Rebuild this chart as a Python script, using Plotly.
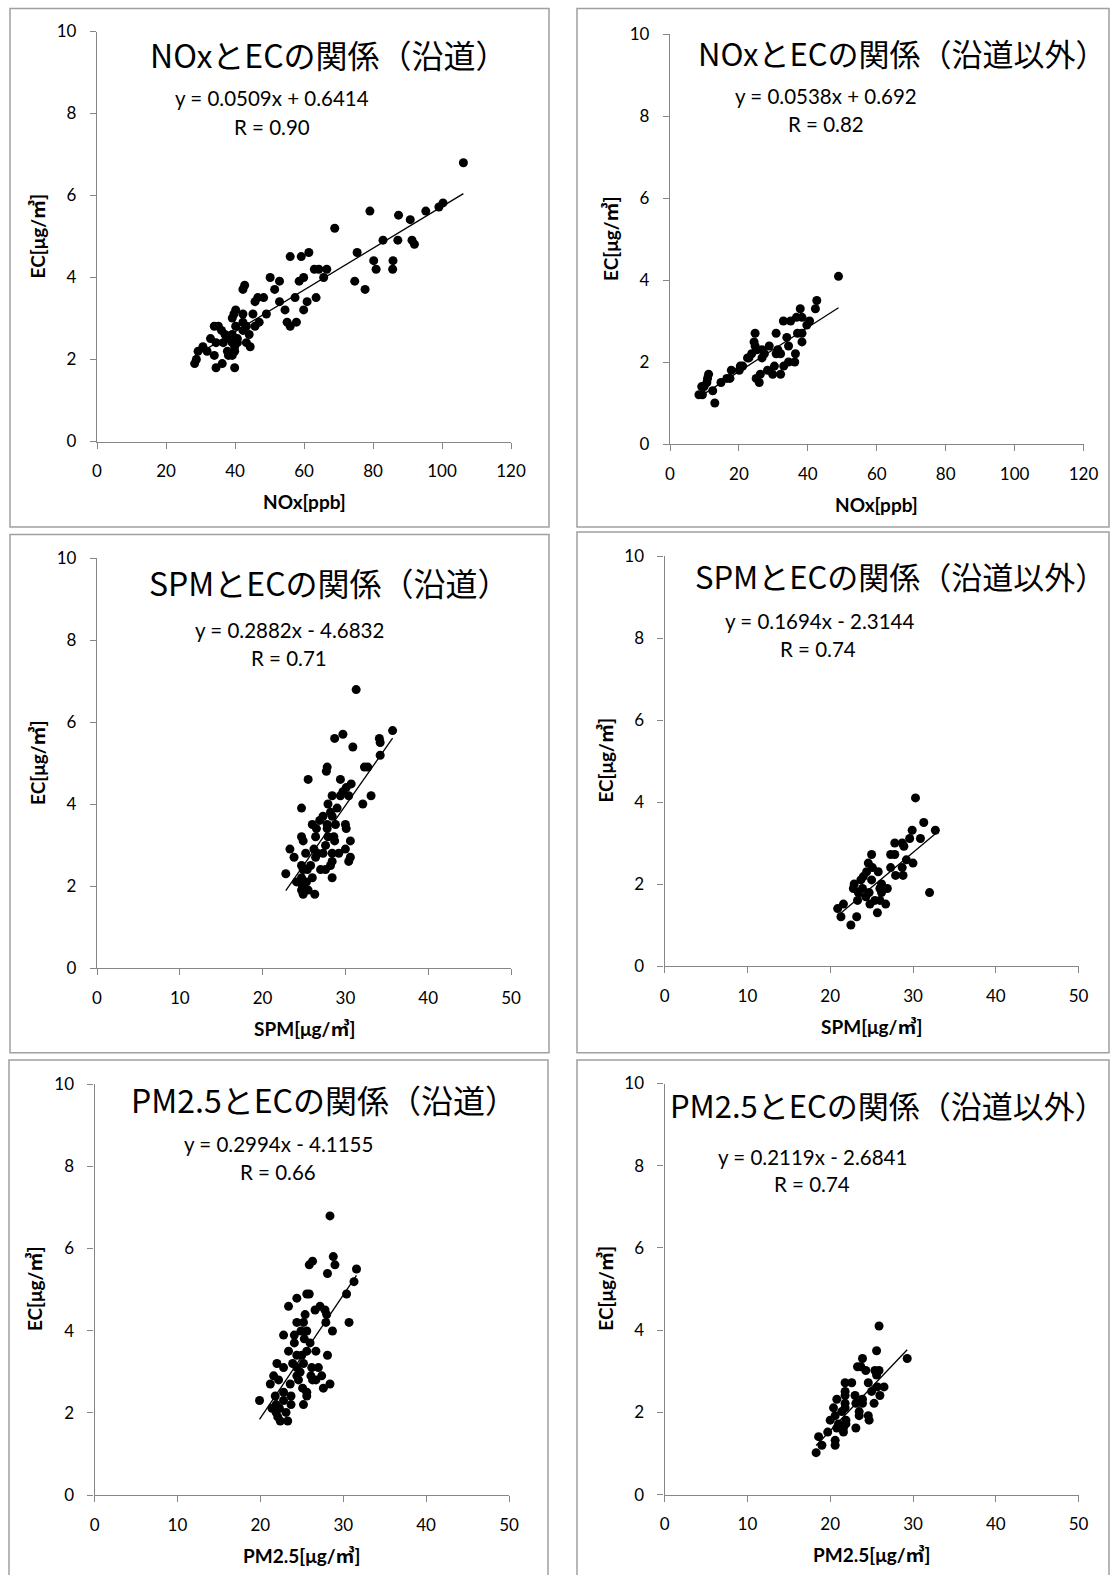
import plotly.graph_objects as go

W, H = 1110, 1575

# ---------------- data ----------------
nox_road_x = [106.2, 100.3, 99.1, 95.3, 90.8, 87.4, 79.1, 68.9, 82.9, 87.2, 91.3, 92.0, 75.4, 80.2, 80.9,
              85.8, 85.7, 74.7, 77.7, 56.0, 59.2, 61.4, 63.0, 64.3, 66.6, 65.7, 58.6, 59.9, 50.2, 52.9,
              51.5, 52.9, 57.4, 60.9, 63.5, 54.5, 59.9, 55.1, 56.0, 57.8, 49.1, 48.3, 46.6, 45.8, 42.3,
              42.8, 45.2, 47.0, 45.8, 42.3, 40.2, 39.7, 39.2, 42.3, 43.3, 40.2, 42.3, 44.1, 39.2, 40.7,
              38.1, 36.1, 37.1, 34.0, 35.2, 32.9, 34.5, 36.6, 39.2, 40.7, 43.3, 44.4, 39.9, 37.8, 39.2,
              38.1, 39.9, 34.0, 30.7, 31.9, 29.3, 28.8, 28.3, 34.5, 36.3, 39.9]
nox_road_y = [6.8, 5.82, 5.72, 5.62, 5.41, 5.52, 5.62, 5.2, 4.91, 4.91, 4.91, 4.81, 4.61, 4.41, 4.2,
              4.41, 4.2, 3.91, 3.71, 4.51, 4.51, 4.61, 4.2, 4.2, 4.2, 4.0, 3.91, 4.0, 4.0, 3.91,
              3.71, 3.41, 3.51, 3.41, 3.51, 3.21, 3.21, 2.91, 2.81, 2.91, 3.11, 3.51, 3.51, 3.41, 3.71,
              3.81, 3.11, 2.91, 2.81, 3.11, 3.21, 3.11, 3.01, 2.91, 2.81, 2.81, 2.71, 2.61, 2.61, 2.51,
              2.51, 2.71, 2.61, 2.81, 2.81, 2.51, 2.41, 2.41, 2.41, 2.41, 2.41, 2.31, 2.31, 2.2, 2.1,
              2.1, 2.2, 2.1, 2.31, 2.2, 2.2, 2.0, 1.9, 1.8, 1.9, 1.8]

nox_other_x = [48.9, 42.6, 42.2, 37.8, 38.3, 36.7, 40.5, 39.7, 35.0, 32.9, 38.3, 37.0, 38.3, 33.9, 34.4,
               36.4, 36.2, 34.4, 33.0, 32.1, 30.3, 29.8, 28.3, 32.1, 30.8, 31.3, 30.8, 28.8, 26.7, 26.7,
               26.2, 25.0, 25.9, 24.7, 24.4, 24.7, 23.7, 22.5, 21.1, 20.4, 20.1, 17.4, 17.8, 16.5, 14.8,
               11.2, 10.9, 10.7, 9.9, 9.2, 12.4, 9.4, 8.4, 13.0, 25.2, 27.4, 22.9]
nox_other_y = [4.09, 3.5, 3.3, 3.3, 3.09, 3.09, 3.0, 2.9, 3.0, 3.0, 2.7, 2.7, 2.49, 2.6, 2.39,
               2.2, 2.0, 2.0, 1.9, 1.7, 1.9, 1.7, 1.8, 2.2, 2.2, 2.3, 2.7, 2.39, 2.3, 2.1,
               1.7, 1.6, 1.5, 2.7, 2.49, 2.39, 2.2, 2.1, 1.9, 1.9, 1.8, 1.6, 1.8, 1.6, 1.5,
               1.7, 1.6, 1.5, 1.4, 1.4, 1.3, 1.2, 1.2, 1.0, 2.3, 2.2, 2.1]

spm_road_x = [31.3, 35.7, 28.7, 29.7, 34.1, 34.2, 30.9, 34.2, 32.3, 32.7, 27.7, 27.8, 25.5, 29.4, 30.7,
              30.1, 29.7, 28.4, 29.4, 30.4, 33.1, 32.1, 27.9, 29.0, 24.7, 28.2, 28.4, 27.3, 26.9, 26.0,
              26.5, 27.8, 27.8, 28.8, 30.0, 30.1, 24.7, 24.9, 26.4, 27.9, 28.6, 28.7, 30.6, 23.3, 25.2,
              26.2, 26.6, 27.6, 27.3, 28.4, 29.2, 30.0, 30.6, 30.4, 26.4, 23.8, 24.7, 24.9, 25.4, 27.0,
              27.6, 28.2, 28.4, 22.8, 24.1, 24.7, 26.0, 28.4, 24.8, 25.3, 24.7, 25.5, 24.9, 26.3, 25.8]
spm_road_y = [6.79, 5.79, 5.6, 5.7, 5.6, 5.5, 5.39, 5.19, 4.9, 4.9, 4.8, 4.9, 4.6, 4.6, 4.49,
              4.4, 4.3, 4.2, 4.2, 4.2, 4.2, 4.0, 4.0, 3.9, 3.9, 3.8, 3.7, 3.7, 3.6, 3.5,
              3.4, 3.5, 3.4, 3.5, 3.5, 3.4, 3.2, 3.1, 3.2, 3.2, 3.2, 3.1, 3.1, 2.9, 2.8,
              2.9, 2.8, 2.99, 2.8, 2.8, 2.8, 2.9, 2.7, 2.6, 2.7, 2.7, 2.5, 2.4, 2.4, 2.4,
              2.4, 2.5, 2.6, 2.3, 2.1, 2.2, 2.2, 2.2, 2.0, 2.1, 1.9, 1.9, 1.8, 1.8, 2.5]

spm_other_x = [30.3, 31.3, 32.7, 29.9, 29.6, 30.9, 27.8, 28.7, 28.9, 27.3, 27.8, 25.0, 30.0, 29.2, 27.3,
               28.7, 27.9, 28.8, 32.0, 24.6, 24.4, 25.1, 25.8, 25.0, 24.0, 23.7, 22.9, 22.8, 23.4, 23.9,
               24.7, 26.2, 26.0, 26.9, 26.2, 23.3, 24.3, 25.4, 26.0, 24.8, 26.7, 25.7, 21.6, 20.9, 21.3,
               23.2, 22.5]
spm_other_y = [4.1, 3.5, 3.31, 3.31, 3.11, 3.11, 3.0, 3.0, 2.92, 2.72, 2.72, 2.72, 2.51, 2.59, 2.4,
               2.4, 2.21, 2.21, 1.79, 2.51, 2.3, 2.4, 2.3, 2.1, 2.18, 2.1, 2.0, 1.89, 1.79, 1.89,
               1.79, 2.0, 1.89, 1.89, 1.79, 1.6, 1.69, 1.6, 1.6, 1.51, 1.51, 1.3, 1.51, 1.4, 1.2,
               1.2, 1.0]

pm_road_x = [28.4, 28.8, 29.0, 26.3, 25.9, 28.1, 31.6, 31.3, 30.4, 25.9, 25.6, 24.4, 23.4, 27.2, 27.8,
             26.6, 28.0, 25.4, 24.4, 25.2, 27.9, 30.7, 28.7, 25.6, 24.9, 22.8, 24.1, 25.3, 26.0, 24.1,
             23.4, 25.6, 26.7, 24.4, 25.0, 28.1, 22.0, 23.9, 25.2, 22.8, 24.4, 26.2, 27.0, 24.8, 21.6,
             24.4, 26.1, 27.4, 22.2, 24.6, 26.3, 26.7, 21.2, 23.6, 28.4, 27.6, 25.1, 25.6, 25.6, 22.8,
             21.8, 23.7, 22.8, 19.9, 25.2, 23.7, 21.9, 21.4, 22.3, 21.9, 23.1, 22.1, 22.4, 23.3]
pm_road_y = [6.79, 5.8, 5.6, 5.69, 5.6, 5.39, 5.5, 5.19, 4.89, 4.89, 4.89, 4.79, 4.59, 4.59, 4.5,
             4.5, 4.39, 4.39, 4.2, 4.2, 4.2, 4.2, 3.99, 3.99, 3.99, 3.89, 3.89, 3.8, 3.7, 3.7,
             3.5, 3.5, 3.5, 3.4, 3.4, 3.4, 3.2, 3.2, 3.2, 3.1, 3.1, 3.1, 3.1, 2.99, 2.9,
             2.9, 2.9, 2.9, 2.8, 2.8, 2.8, 2.8, 2.7, 2.7, 2.7, 2.6, 2.6, 2.5, 2.41, 2.5,
             2.41, 2.41, 2.3, 2.3, 2.2, 2.2, 2.2, 2.11, 2.11, 2.01, 2.01, 1.9, 1.8, 1.8]

pm_other_x = [25.9, 25.6, 29.3, 23.9, 23.3, 23.7, 24.3, 25.4, 25.9, 25.6, 21.8, 22.6, 24.6, 26.5, 25.7,
              25.0, 21.8, 26.0, 23.0, 21.8, 23.9, 20.8, 23.1, 23.9, 25.3, 21.8, 20.4, 21.8, 23.5, 21.4,
              23.5, 24.6, 20.6, 20.0, 21.9, 24.7, 21.0, 21.9, 23.1, 20.8, 21.6, 19.7, 21.6, 18.6, 20.6,
              19.0, 20.6, 18.3]
pm_other_y = [4.1, 3.5, 3.31, 3.31, 3.11, 3.11, 3.02, 3.02, 3.02, 2.91, 2.72, 2.72, 2.72, 2.62, 2.62,
              2.51, 2.51, 2.41, 2.41, 2.41, 2.32, 2.32, 2.22, 2.22, 2.22, 2.22, 2.11, 2.11, 2.02, 2.02,
              1.92, 1.92, 1.92, 1.81, 1.81, 1.81, 1.72, 1.72, 1.62, 1.62, 1.62, 1.52, 1.52, 1.41, 1.32,
              1.2, 1.2, 1.02]

titles = ["NOxとECの関係（沿道）", "NOxとECの関係（沿道以外）",
          "SPMとECの関係（沿道）", "SPMとECの関係（沿道以外）",
          "PM2.5とECの関係（沿道）", "PM2.5とECの関係（沿道以外）"]
equations = ["y = 0.0509x + 0.6414", "y = 0.0538x + 0.692",
             "y = 0.2882x - 4.6832", "y = 0.1694x - 2.3144",
             "y = 0.2994x - 4.1155", "y = 0.2119x - 2.6841"]
r_labels = ["R = 0.90", "R = 0.82", "R = 0.71", "R = 0.74", "R = 0.66", "R = 0.74"]
slopes = [0.0509, 0.0538, 0.2882, 0.1694, 0.2994, 0.2119]
intercepts = [0.6414, 0.692, -4.6832, -2.3144, -4.1155, -2.6841]
x_titles = ["NOx[ppb]", "NOx[ppb]", "SPM[μg/㎥]", "SPM[μg/㎥]", "PM2.5[μg/㎥]", "PM2.5[μg/㎥]"]
y_title = "EC[μg/㎥]"
x_max = [120, 120, 50, 50, 50, 50]
x_dtick = [20, 20, 10, 10, 10, 10]

series = [(nox_road_x, nox_road_y), (nox_other_x, nox_other_y),
          (spm_road_x, spm_road_y), (spm_other_x, spm_other_y),
          (pm_road_x, pm_road_y), (pm_other_x, pm_other_y)]

# ---------------- layout geometry (pixels) ----------------
plots = [(97, 511, 31.5, 441.5), (670, 1083.5, 34, 444),
         (97, 511, 558, 968), (664.6, 1078.6, 556, 966),
         (94.6, 509, 1084, 1495), (664.6, 1078.6, 1083.5, 1494.6)]
borders = [(10, 8.5, 549, 527), (577, 8.5, 1109, 527),
           (10, 534.5, 549, 1052.7), (577, 532, 1109, 1052.7),
           (9, 1060, 548, 1580), (577, 1060, 1109, 1580)]
# (x, y, anchor, size)
title_pos = [(329, 54, "center", 32), (1108, 52, "right", 31), (329, 582, "center", 32),
             (1108, 576, "right", 31), (324, 1099, "center", 32), (1108, 1104, "right", 31)]
eq_pos = [(272, 98), (826, 96), (289, 630), (819, 621), (278, 1144), (812, 1157)]
r_pos = [(272, 127), (826, 124), (289, 658), (818, 649), (278, 1172), (812, 1184)]


def fx(x):
    return x / W


def fy(y):
    return 1 - y / H


AXIS_COL = "#868686"
TICK_FONT = dict(family="Lato, 'Noto Sans CJK JP', sans-serif", size=17, color="black")
LAB_FONT = dict(family="Lato, 'Noto Sans CJK JP', sans-serif", size=19, color="black", weight="bold")

fig = go.Figure()
annotations = []
shapes = []

for i in range(6):
    xs, ys = series[i]
    n = "" if i == 0 else str(i + 1)
    xa, ya = "x" + n, "y" + n
    fig.add_trace(go.Scatter(x=xs, y=ys, mode="markers", xaxis=xa, yaxis=ya,
                             marker=dict(color="black", size=9), showlegend=False,
                             hoverinfo="x+y"))
    x0, x1 = min(xs), max(xs)
    fig.add_trace(go.Scatter(x=[x0, x1], y=[slopes[i] * x0 + intercepts[i], slopes[i] * x1 + intercepts[i]],
                             mode="lines", xaxis=xa, yaxis=ya, line=dict(color="black", width=1.3),
                             showlegend=False, hoverinfo="skip"))
    l, r, t, b = plots[i]
    axcommon = dict(showgrid=False, zeroline=False, showline=True, linecolor=AXIS_COL, linewidth=1.3,
                    ticks="outside", ticklen=6, tickcolor=AXIS_COL, tickwidth=1.3,
                    tickfont=TICK_FONT, fixedrange=True)
    fig.layout["xaxis" + n] = dict(domain=[fx(l), fx(r)], range=[0, x_max[i]], dtick=x_dtick[i], tick0=0,
                                   anchor=ya, ticklabelstandoff=8, **axcommon)
    fig.layout["yaxis" + n] = dict(domain=[fy(b), fy(t)], range=[0, 10], dtick=2, tick0=0,
                                   anchor=xa, ticklabelstandoff=10, **axcommon)
    bl, bt, br, bb = borders[i]
    shapes.append(dict(type="rect", xref="paper", yref="paper", x0=fx(bl), x1=fx(br), y0=fy(bb), y1=fy(bt),
                       line=dict(color="#a0a0a0", width=1.5), fillcolor="rgba(0,0,0,0)", layer="below"))
    tx, ty, tanc, tsize = title_pos[i]
    annotations.append(dict(text=titles[i], x=fx(tx), y=fy(ty), xref="paper", yref="paper",
                            showarrow=False, xanchor=tanc, yanchor="middle",
                            font=dict(family="'Noto Sans CJK JP', sans-serif", size=tsize, color="black")))
    ex, ey = eq_pos[i]
    annotations.append(dict(text=equations[i], x=fx(ex), y=fy(ey), xref="paper", yref="paper",
                            showarrow=False, xanchor="center", yanchor="middle",
                            font=dict(family="Lato, sans-serif", size=20.5, color="black")))
    rx, ry = r_pos[i]
    annotations.append(dict(text=r_labels[i], x=fx(rx), y=fy(ry), xref="paper", yref="paper",
                            showarrow=False, xanchor="center", yanchor="middle",
                            font=dict(family="Lato, sans-serif", size=20.5, color="black")))
    annotations.append(dict(text=x_titles[i], x=fx((l + r) / 2), y=fy(b + 60), xref="paper", yref="paper",
                            showarrow=False, xanchor="center", yanchor="middle", font=LAB_FONT))
    annotations.append(dict(text=y_title, x=fx(l - 60), y=fy((t + b) / 2), xref="paper", yref="paper",
                            showarrow=False, xanchor="center", yanchor="middle", textangle=-90, font=LAB_FONT))

fig.update_layout(width=W, height=H, margin=dict(l=0, r=0, t=0, b=0, autoexpand=False), autosize=False,
                  paper_bgcolor="white", plot_bgcolor="white",
                  annotations=annotations, shapes=shapes)

fig.write_html("out.html", config={"displayModeBar": False},
               post_script="document.body.style.margin='0';document.body.style.padding='0';"
                           "document.documentElement.style.overflow='hidden';"
                           "document.body.style.overflow='hidden';")
